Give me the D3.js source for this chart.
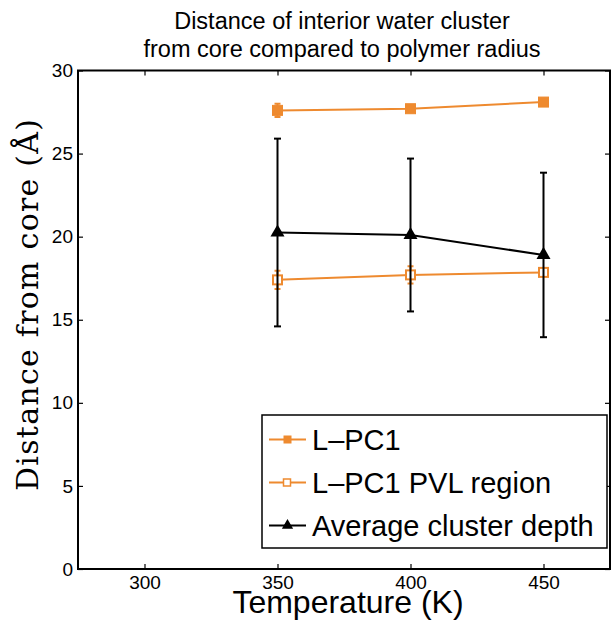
<!DOCTYPE html>
<html>
<head>
<meta charset="utf-8">
<script src="https://cdn.jsdelivr.net/npm/d3@7"></script>
<style>
  html, body { margin: 0; padding: 0; background: #fff; }
  svg { display: block; }
</style>
</head>
<body>
<svg id="chart" width="615" height="623"></svg>
<script>
// ---- Data ----
const temperatures = [350, 400, 450];
const lpc1Values = [27.6, 27.7, 28.1];
const lpc1Errors = [0.4, 0.2, 0.1];
const pvlValues = [17.4, 17.7, 17.85];
const pvlErrors = [0.55, 0.52, 0.15];
const depthValues = [20.25, 20.1, 18.9];
const depthErrors = [5.65, 4.6, 4.95];
const xTicks = [300, 350, 400, 450];
const yTicks = [0, 5, 10, 15, 20, 25, 30];
const seriesNames = ["L\u2013PC1", "L\u2013PC1 PVL region", "Average cluster depth"];
const titleLines = ["Distance of interior water cluster", "from core compared to polymer radius"];

const orange = "#EE8A2F";
const svg = d3.select("#chart");
const mLeft = 78, mRight = 610, mTop = 70.5, mBottom = 569;

const x = d3.scaleLinear().domain([275, 475]).range([mLeft, mRight]);
const y = d3.scaleLinear().domain([0, 30]).range([mBottom, mTop]);

// Title
svg.append("g").selectAll("text").data(titleLines).join("text")
  .attr("x", 342).attr("y", (d, i) => 29 + i * 27.5)
  .attr("text-anchor", "middle")
  .attr("font-family", "Liberation Sans, Arial, sans-serif")
  .attr("font-size", 23.5)
  .attr("fill", "#000")
  .text(d => d);

// Axes
const axisG = svg.append("g");
const bottomAxis = d3.axisBottom(x).tickValues(xTicks).tickSize(-5).tickPadding(7).tickFormat(d3.format("d"));
const leftAxis = d3.axisLeft(y).tickValues(yTicks).tickSize(-5).tickPadding(5).tickFormat(d3.format("d"));
const topAxis = d3.axisTop(x).tickValues(xTicks).tickSize(-5).tickFormat("");
const rightAxis = d3.axisRight(y).tickValues(yTicks).tickSize(-5).tickFormat("");

function styleAxis(g) {
  g.select(".domain").remove();
  g.selectAll(".tick line").attr("stroke", "#000").attr("stroke-width", 1.2);
  g.selectAll(".tick text").attr("font-family", "Liberation Sans, Arial, sans-serif").attr("font-size", 19).attr("fill", "#000");
}
axisG.append("g").attr("transform", `translate(0,${mBottom})`).call(bottomAxis).call(styleAxis);
axisG.append("g").attr("transform", `translate(${mLeft},0)`).call(leftAxis).call(styleAxis);
axisG.append("g").attr("transform", `translate(0,${mTop})`).call(topAxis).call(styleAxis);
axisG.append("g").attr("transform", `translate(${mRight},0)`).call(rightAxis).call(styleAxis);

axisG.append("rect")
  .attr("x", mLeft).attr("y", mTop).attr("width", mRight - mLeft).attr("height", mBottom - mTop)
  .attr("fill", "none").attr("stroke", "#000").attr("stroke-width", 2);

// Axis labels
svg.append("text")
  .attr("x", 348).attr("y", 613)
  .attr("text-anchor", "middle")
  .attr("font-family", "Liberation Sans, Arial, sans-serif")
  .attr("font-size", 32)
  .text("Temperature (K)");

svg.append("text")
  .attr("transform", `translate(38,305) rotate(-90)`)
  .attr("text-anchor", "middle")
  .attr("font-family", "DejaVu Serif, Liberation Serif, serif")
  .attr("font-size", 30)
  .attr("textLength", 372)
  .attr("lengthAdjust", "spacing")
  .text("Distance from core (\u00C5)");

// Series drawing helpers
const line = d3.line().x(d => x(d.t)).y(d => y(d.v));
function rows(values, errors) {
  return temperatures.map((t, i) => ({ t, v: values[i], e: errors[i] }));
}

function drawErrorBars(g, data, color, cap) {
  const eg = g.append("g");
  eg.selectAll("line.v").data(data).join("line")
    .attr("x1", d => x(d.t)).attr("x2", d => x(d.t))
    .attr("y1", d => y(d.v - d.e)).attr("y2", d => y(d.v + d.e))
    .attr("stroke", color).attr("stroke-width", 2);
  eg.selectAll("line.lo").data(data).join("line")
    .attr("x1", d => x(d.t) - cap).attr("x2", d => x(d.t) + cap)
    .attr("y1", d => y(d.v - d.e)).attr("y2", d => y(d.v - d.e))
    .attr("stroke", color).attr("stroke-width", 2);
  eg.selectAll("line.hi").data(data).join("line")
    .attr("x1", d => x(d.t) - cap).attr("x2", d => x(d.t) + cap)
    .attr("y1", d => y(d.v + d.e)).attr("y2", d => y(d.v + d.e))
    .attr("stroke", color).attr("stroke-width", 2);
}

const plotG = svg.append("g");

// L-PC1
const lpc1 = rows(lpc1Values, lpc1Errors);
const g1 = plotG.append("g");
drawErrorBars(g1, lpc1, orange, 3);
g1.append("path").datum(lpc1).attr("d", line).attr("fill", "none").attr("stroke", orange).attr("stroke-width", 2);
g1.selectAll("rect").data(lpc1).join("rect")
  .attr("x", d => x(d.t) - 5).attr("y", d => y(d.v) - 5).attr("width", 10).attr("height", 10)
  .attr("fill", orange).attr("stroke", orange).attr("stroke-width", 1);

// PVL region
const pvl = rows(pvlValues, pvlErrors);
const g2 = plotG.append("g");
drawErrorBars(g2, pvl, orange, 3);
g2.append("path").datum(pvl).attr("d", line).attr("fill", "none").attr("stroke", orange).attr("stroke-width", 2);
g2.selectAll("rect").data(pvl).join("rect")
  .attr("x", d => x(d.t) - 4.5).attr("y", d => y(d.v) - 4.5).attr("width", 9).attr("height", 9)
  .attr("fill", "#fff").attr("stroke", orange).attr("stroke-width", 2);

// Average cluster depth
const depth = rows(depthValues, depthErrors);
const g3 = plotG.append("g");
drawErrorBars(g3, depth, "#000", 3.5);
g3.append("path").datum(depth).attr("d", line).attr("fill", "none").attr("stroke", "#000").attr("stroke-width", 2);
const tri = d3.symbol().type(d3.symbolTriangle).size(85);
g3.selectAll("path.tri").data(depth).join("path")
  .attr("class", "tri")
  .attr("d", tri)
  .attr("transform", d => `translate(${x(d.t)},${y(d.v)})`)
  .attr("fill", "#000");

// Legend
const lg = svg.append("g");
lg.append("rect").attr("x", 262).attr("y", 415).attr("width", 345).attr("height", 133)
  .attr("fill", "#fff").attr("stroke", "#000").attr("stroke-width", 1.5);
const legendColors = [orange, orange, "#000"];
const entries = lg.selectAll("g.entry").data(seriesNames).join("g")
  .attr("class", "entry")
  .attr("transform", (d, i) => `translate(0,${439.5 + i * 43})`);
entries.append("line").attr("x1", 269).attr("x2", 306).attr("y1", 0).attr("y2", 0)
  .attr("stroke", (d, i) => legendColors[i]).attr("stroke-width", 2);
entries.each(function (d, i) {
  const e = d3.select(this);
  if (i === 0) {
    e.append("rect").attr("x", 283.5).attr("y", -4).attr("width", 8).attr("height", 8).attr("fill", orange);
  } else if (i === 1) {
    e.append("rect").attr("x", 283.5).attr("y", -3.5).attr("width", 7).attr("height", 7)
      .attr("fill", "#fff").attr("stroke", orange).attr("stroke-width", 1.5);
  } else {
    e.append("path").attr("d", d3.symbol().type(d3.symbolTriangle).size(55)).attr("transform", "translate(287.5,0)").attr("fill", "#000");
  }
});
entries.append("text").attr("x", 312).attr("y", 0).attr("dy", "0.36em")
  .attr("font-family", "Liberation Sans, Arial, sans-serif")
  .attr("font-size", 29)
  .text(d => d);
</script>
</body>
</html>
